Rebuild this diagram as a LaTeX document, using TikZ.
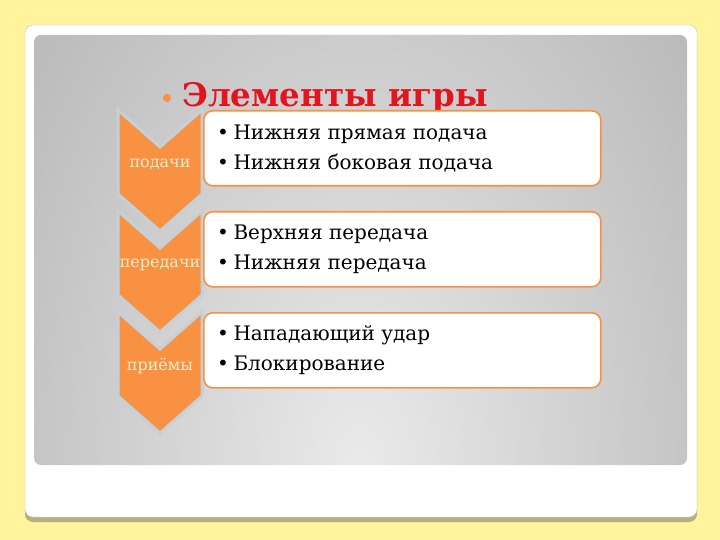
\documentclass[tikz,border=0pt]{standalone}
\usepackage{fontspec}
\setmainfont{DejaVu Serif}
\usetikzlibrary{positioning}

\definecolor{slidebg}{RGB}{255,243,156}
\definecolor{cardshadow}{RGB}{181,174,125}
\definecolor{panelin}{RGB}{234,234,234}
\definecolor{panelout}{RGB}{164,164,164}
\definecolor{chevorange}{RGB}{248,145,66}
\definecolor{chevgap}{RGB}{198,208,216}
\definecolor{labelcream}{RGB}{253,236,205}
\definecolor{titlered}{RGB}{226,20,30}

\tikzset{
	chevron/.style={fill=chevorange, draw=chevgap, line width=3pt, line join=miter},
	itembox/.style={draw=chevorange, line width=1.6pt, fill=white, rounded corners=9pt,
		minimum width=397pt, minimum height=75pt, inner sep=0pt, anchor=north west},
	itemtext/.style={font=\fontsize{20}{30}\selectfont, align=left, inner sep=0pt},
	chevlabel/.style={font=\fontsize{16}{18}\selectfont, text=labelcream, inner sep=0pt}
}

\begin{document}
\begin{tikzpicture}[x=1pt, y=-1pt]
	\useasboundingbox[fill=slidebg] (0,0) rectangle (720,540);
	% card with shadow
	\fill[cardshadow, rounded corners=8pt] (25,30) rectangle (697,522);
	\draw[fill=white, draw=gray!45, rounded corners=8pt] (25,25) rectangle (697,517);
	\begin{scope}
		\clip[rounded corners=7pt] (34,35) rectangle (687,465);
		\shade[inner color=panelin, outer color=panelout] (360,470) ellipse (620 and 1000);
	\end{scope}
	
	% title
	\fill[chevorange] (167,98) circle (4);
	\node[anchor=base west, font=\fontsize{32.5}{40}\selectfont\bfseries, text=titlered, inner sep=0pt] (title) at (182,107) {Элементы игры};
	
	% chevrons
	\foreach \y/\n/\lab in {110/pod/подачи, 211/per/передачи, 312/pri/приёмы}{
		\draw[chevron] (118,\y) -- (160,\y+37) -- (202,\y) -- (202,\y+84) -- (160,\y+121) -- (118,\y+84) -- cycle;
		\node[chevlabel] (lab-\n) at (160,\y+54) {\lab};
	}
	
	% boxes
	\node[itembox] (box-pod) at (203,110) {};
	\node[itembox] (box-per) at (203,211) {};
	\node[itembox] (box-pri) at (203,312) {};
	\node[itemtext, right=14pt of box-pod.west] (txt-pod) {•\hspace{4.5pt}Нижняя прямая подача\\ •\hspace{4.5pt}Нижняя боковая подача};
	\node[itemtext, right=14pt of box-per.west] (txt-per) {•\hspace{4.5pt}Верхняя передача\\ •\hspace{4.5pt}Нижняя передача};
	\node[itemtext, right=14pt of box-pri.west] (txt-pri) {•\hspace{4.5pt}Нападающий удар\\ •\hspace{4.5pt}Блокирование};
	
\end{tikzpicture}
\end{document}
